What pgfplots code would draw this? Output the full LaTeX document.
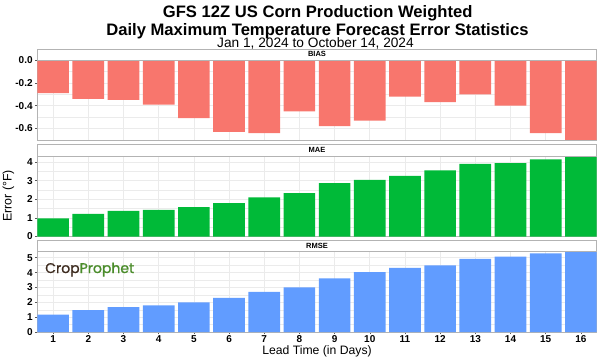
\documentclass[border=0pt]{standalone}
\usepackage{fontspec}
\setmainfont{Liberation Sans}
\newfontfamily\logofont{Poppins}[FakeBold=1.2]
\usepackage{pgfplots}
\pgfplotsset{compat=1.18}
\definecolor{biasc}{HTML}{F8766D}
\definecolor{maec}{HTML}{00BA38}
\definecolor{rmsec}{HTML}{619CFF}
\definecolor{gridc}{HTML}{EBEBEB}
\definecolor{borderc}{HTML}{B3B3B3}
\definecolor{cropbrown}{HTML}{3D2B1F}
\definecolor{cropgreen}{HTML}{4A8C2A}

\pgfplotsset{
  panel/.style={
    scale only axis, width=559.4pt, height=80.5pt,
    xmin=0.55, xmax=16.45,
    axis line style={borderc, line width=0.6pt},
    ybar, bar width=0.9, bar shift=0pt,
    xtick={1,...,16},
    xmajorgrids, ymajorgrids, yminorgrids,
    major grid style={gridc, line width=0.6pt},
    minor grid style={gridc, line width=0.3pt},
    minor tick length=0pt,
    major tick length=2pt,
    tick align=outside,
    ytick pos=left, xtick pos=bottom,
    tick style={black!65, line width=0.5pt},
    /pgf/number format/assume math mode=true,
    yticklabel style={font=\fontsize{10}{12}\selectfont\bfseries, inner sep=1pt, xshift=-1.5pt},
    xticklabel style={font=\fontsize{10}{12}\selectfont\bfseries, inner sep=1pt},
    clip=false,
  },
}

\begin{document}
\begin{tikzpicture}[x=1pt,y=1pt]
\useasboundingbox (0,0) rectangle (600,360);

% BIAS
\begin{axis}[panel, at={(37.3pt,300pt)}, anchor=north west,
  ymin=-0.705, ymax=0,
  ytick={-0.6,-0.4,-0.2,0}, yticklabels={-0.6,-0.4,-0.2,0.0},
  minor ytick={-0.7,-0.5,-0.3,-0.1},
  xticklabels={}, xtick style={draw=none}]
\addplot[fill=biasc, draw=none] coordinates {
(1,-0.29) (2,-0.34) (3,-0.35) (4,-0.39) (5,-0.51) (6,-0.63) (7,-0.64) (8,-0.45)
(9,-0.58) (10,-0.53) (11,-0.32) (12,-0.37) (13,-0.30) (14,-0.40) (15,-0.64) (16,-0.70)};
\end{axis}

% MAE
\begin{axis}[panel, at={(37.3pt,204pt)}, anchor=north west,
  ymin=0, ymax=4.32,
  ytick={0,1,2,3,4},
  minor ytick={0.5,1.5,2.5,3.5},
  xticklabels={}, xtick style={draw=none}]
\addplot[fill=maec, draw=none] coordinates {
(1,0.97) (2,1.22) (3,1.38) (4,1.43) (5,1.58) (6,1.79) (7,2.10) (8,2.33)
(9,2.87) (10,3.04) (11,3.26) (12,3.55) (13,3.90) (14,3.94) (15,4.14) (16,4.31)};
\end{axis}

% RMSE
\begin{axis}[panel, at={(37.3pt,108.5pt)}, anchor=north west,
  ymin=0, ymax=5.42,
  ytick={0,1,2,3,4,5},
  minor ytick={0.5,1.5,2.5,3.5,4.5},
  xticklabels={1,2,3,4,5,6,7,8,9,10,11,12,13,14,15,16}]
\addplot[fill=rmsec, draw=none] coordinates {
(1,1.17) (2,1.48) (3,1.68) (4,1.80) (5,2.00) (6,2.29) (7,2.71) (8,3.00)
(9,3.61) (10,4.04) (11,4.31) (12,4.49) (13,4.93) (14,5.07) (15,5.30) (16,5.42)};
\end{axis}

% strips
\draw[borderc, fill=white, line width=0.6pt] (37.3,300) rectangle (596.7,311.2);
\node[font=\fontsize{7.5}{9}\selectfont\bfseries] at (317,305.6) {BIAS};
\draw[borderc, fill=white, line width=0.6pt] (37.3,204) rectangle (596.7,216);
\node[font=\fontsize{7.5}{9}\selectfont\bfseries] at (317,210) {MAE};
\draw[borderc, fill=white, line width=0.6pt] (37.3,108.5) rectangle (596.7,120);
\node[font=\fontsize{7.5}{9}\selectfont\bfseries] at (317,114.25) {RMSE};

% titles
\node[anchor=base, inner sep=0, font=\fontsize{16.6}{20}\selectfont\bfseries] at (317.7,342.7) {GFS 12Z US Corn Production Weighted};
\node[anchor=base, inner sep=0, font=\fontsize{16.6}{20}\selectfont\bfseries] at (317.5,324.3) {Daily Maximum Temperature Forecast Error Statistics};
\node[anchor=base, inner sep=0, font=\fontsize{13.7}{16}\selectfont] at (315.5,312.9) {Jan 1, 2024 to October 14, 2024};

% axis labels
\node[rotate=90, inner sep=0, font=\fontsize{12.4}{14}\selectfont] at (8.5,164) {Error (°F)};
\node[anchor=base, inner sep=0, font=\fontsize{12.2}{14}\selectfont] at (317,5.7) {Lead Time (in Days)};

% logo
\node[anchor=base west, inner sep=0, font=\logofont\fontsize{14}{16}\selectfont] at (45,87) {\textcolor{cropbrown}{Crop}\textcolor{cropgreen}{Prophet}};
\end{tikzpicture}
\end{document}
